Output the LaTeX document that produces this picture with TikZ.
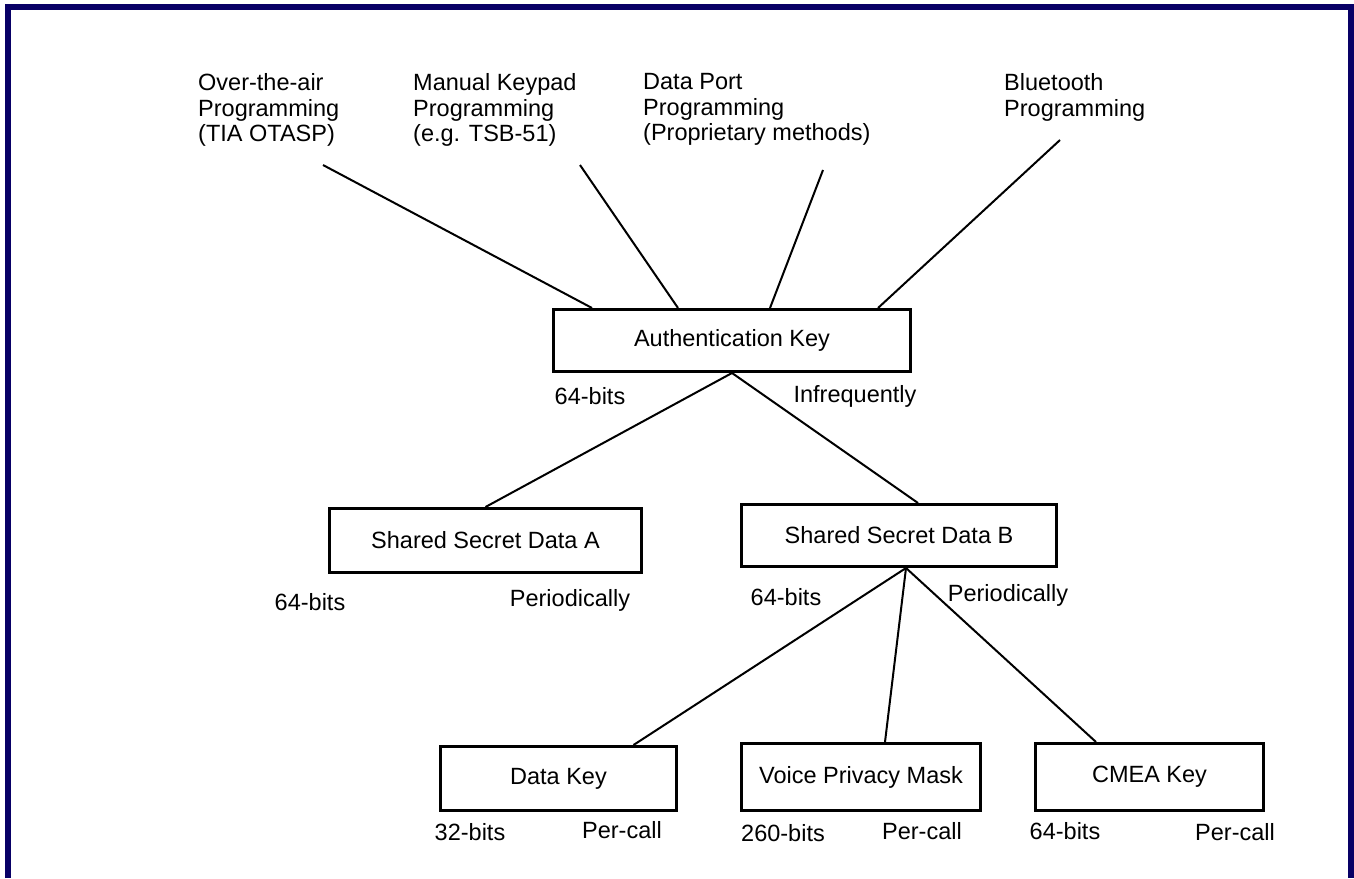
\documentclass[tikz,border=0pt]{standalone}
\usepackage{fontspec}
\setmainfont{Liberation Sans}
\definecolor{framenavy}{RGB}{8,0,102}
\begin{document}
\begin{tikzpicture}[x=1pt,y=-1pt,
  keybox/.style={draw=black,line width=3pt,inner sep=0pt,font=\fontsize{23.5}{25.5}\selectfont},
  lbl/.style={inner sep=0pt,font=\fontsize{23.5}{25.5}\selectfont},
  src/.style={inner sep=0pt,anchor=north west,align=left,font=\fontsize{23.5}{25.5}\selectfont},
  conn/.style={line width=2pt,black}]
\useasboundingbox (0,0) rectangle (1354,878);
\draw[framenavy,line width=6.5pt] (8,878) -- (8,7) -- (1351,7) -- (1351,878);

% source labels
\node[src] (ota) at (198,73.5) {Over-the-air\\Programming\\(TIA OTASP)};
\node[src] (kp) at (413,73.5) {Manual Keypad\\Programming\\(e.g. TSB-51)};
\node[src] (dp) at (643,73.5) {Data Port\\Programming\\(Proprietary methods)};
\node[src] (bt) at (1004,73.5) {Bluetooth\\Programming};
\coordinate (otaE) at (323,165);
\coordinate (kpE) at (580,165);
\coordinate (dpE) at (823,170);
\coordinate (btE) at (1060,140);

% boxes
\node[keybox,minimum width=357pt,minimum height=62pt] (auth) at (732,340.5) {Authentication Key};
\node[keybox,minimum width=312pt,minimum height=64pt] (ssda) at (485.5,540.5) {Shared Secret Data A};
\node[keybox,minimum width=315pt,minimum height=62pt] (ssdb) at (899,535.5) {Shared Secret Data B};
\node[keybox,minimum width=236pt,minimum height=64pt] (dk) at (558.5,778.5) {Data Key};
\node[keybox,minimum width=239pt,minimum height=67pt] (vpm) at (861,777) {Voice Privacy Mask};
\node[keybox,minimum width=228pt,minimum height=67pt] (cmea) at (1149.5,777) {CMEA Key};

% connectors
\draw[conn] (otaE) -- ([xshift=40pt]auth.north west);
\draw[conn] (kpE) -- ([xshift=126pt]auth.north west);
\draw[conn] (dpE) -- ([xshift=218pt]auth.north west);
\draw[conn] (btE) -- ([xshift=326pt]auth.north west);
\draw[conn] (auth.south) -- (ssda.north);
\draw[conn] (auth.south) -- ([xshift=19pt]ssdb.north);
\draw[conn] ([xshift=7pt]ssdb.south) -- ([xshift=75pt]dk.north);
\draw[conn] ([xshift=7pt]ssdb.south) -- ([xshift=24pt]vpm.north);
\draw[conn] ([xshift=7pt]ssdb.south) -- ([xshift=62pt]cmea.north west);

% labels
\node[lbl] (l1) at (590,396) {64-bits};
\node[lbl] (l2) at (855,396) {Infrequently};
\node[lbl] (l3) at (310,602) {64-bits};
\node[lbl] (l4) at (570,600) {Periodically};
\node[lbl] (l5) at (786,597) {64-bits};
\node[lbl] (l6) at (1008,595) {Periodically};
\node[lbl] (l7) at (470,832) {32-bits};
\node[lbl] (l8) at (622,830) {Per-call};
\node[lbl] (l9) at (783,833) {260-bits};
\node[lbl] (l10) at (922,831) {Per-call};
\node[lbl] (l11) at (1065,831) {64-bits};
\node[lbl] (l12) at (1235,832) {Per-call};
\end{tikzpicture}
\end{document}
